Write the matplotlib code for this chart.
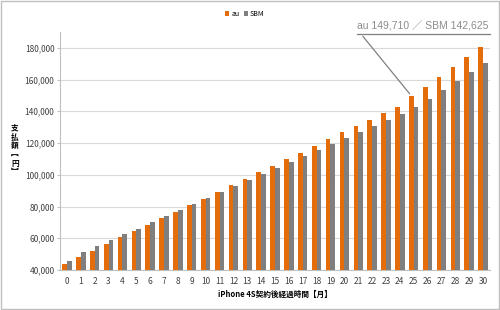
import numpy as np
import matplotlib.pyplot as plt

plt.rcParams['font.family'] = ['Noto Sans CJK JP', 'DejaVu Sans']

months = list(range(31))
au = [43800, 48000, 52100, 56100, 60500, 64500, 68400, 72900, 76700, 80900,
      85000, 89100, 93300, 97100, 101500, 105800, 109900, 114000, 118200, 122400,
      126800, 130500, 134600, 138900, 142800, 149710, 155400, 161800, 168100, 174400,
      180600]
sbm = [45800, 51300, 55200, 58800, 62600, 66100, 70300, 73900, 77600, 81600,
       85300, 89100, 93100, 96400, 100600, 104400, 107900, 111900, 115700, 119600,
       123200, 126800, 130700, 134500, 138200, 142625, 147600, 153300, 159100, 164800,
       170600]
yticks = list(range(40000, 180001, 20000))

orange = '#E46C0A'
gray = '#7F7F7F'

fig = plt.figure(figsize=(5, 3.1), dpi=100)
ax = fig.add_axes([0.12, 0.129, 0.86, 0.768])

x = np.arange(len(months))
w = 0.34
ax.bar(x - w / 2, au, w, color=orange, label='au', zorder=3)
ax.bar(x + w / 2, sbm, w, color=gray, label='SBM', zorder=3)

ax.set_xlim(-0.5, len(months) - 0.5)
ax.set_ylim(40000, 190000)
ax.set_yticks(yticks)
ax.set_yticklabels([f'{v:,}' for v in yticks], fontsize=6, color='#404040')
ax.set_xticks(x)
ax.set_xticklabels([str(m) for m in months], fontsize=6, color='#404040')
ax.grid(axis='y', color='#D9D9D9', linewidth=0.8, zorder=0)
for s in ['top', 'right']:
    ax.spines[s].set_visible(False)
for s in ['left', 'bottom']:
    ax.spines[s].set_color('#BFBFBF')
    ax.spines[s].set_linewidth(0.8)
ax.tick_params(axis='both', length=2, color='#BFBFBF', pad=2)
ax.tick_params(axis='x', length=0, pad=5)

ax.set_xlabel('iPhone 4S契約後経過時間【月】', fontsize=5.5, fontweight='bold', labelpad=3)
fig.text(0.03, 0.516, '支\n払\n額\n︻\n円\n︼', fontsize=5.5, fontweight='bold',
         ha='center', va='center', linespacing=0.95)

ax.legend(loc='center', bbox_to_anchor=(0.43, 1.075), ncol=2, frameon=False,
          fontsize=5, handlelength=0.6, handleheight=0.6, handletextpad=0.3,
          columnspacing=0.6, borderpad=0)

# callout for month 25
ax.annotate('', xy=(25 - w / 2, au[25]), xytext=(21.2, 188700),
            arrowprops=dict(arrowstyle='-', color='#808080', lw=0.9), zorder=4)
ax.text(30.4, 190000, 'au 149,710 ／ SBM 142,625', fontsize=7.5, color='#8C8C8C',
        ha='right', va='bottom', family=['Liberation Sans', 'Noto Sans CJK JP'])
ax.plot([20.9, 30.5], [188700, 188700], color='#808080', lw=0.9, clip_on=False, zorder=4)

fig.patches.append(plt.Rectangle((0.002, 0.003), 0.996, 0.994, transform=fig.transFigure,
                                 fill=False, edgecolor='#BFBFBF', linewidth=1))

fig.savefig('out.png', dpi=100)
